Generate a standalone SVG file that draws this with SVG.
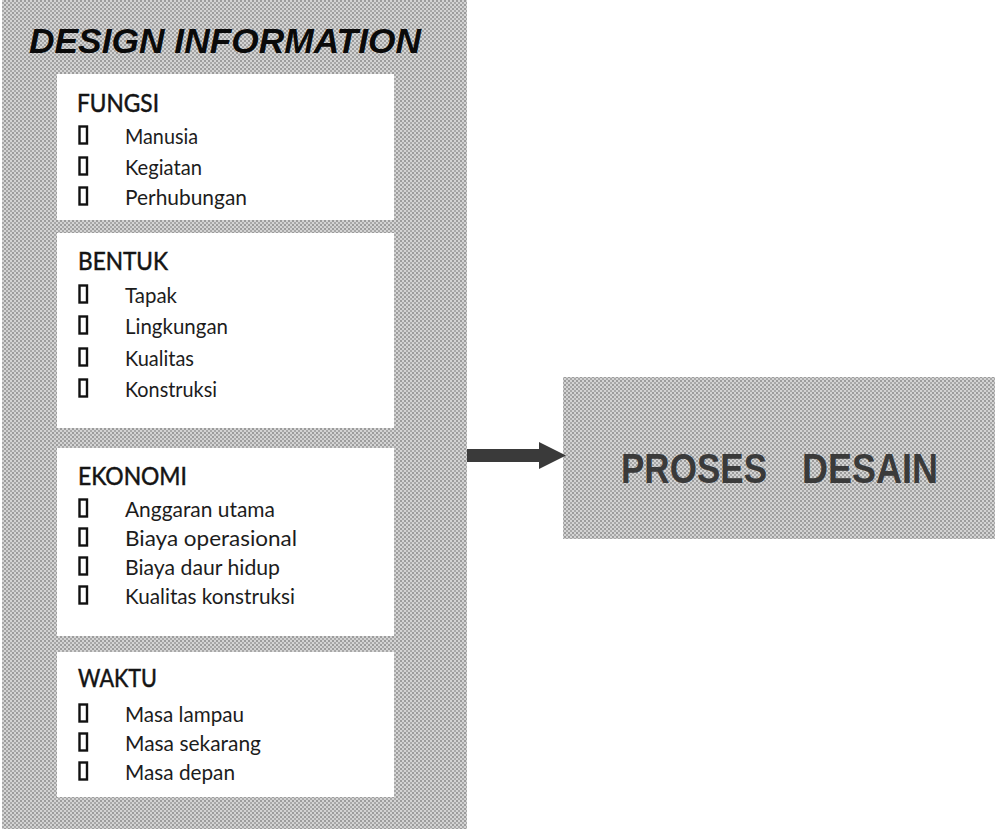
<svg xmlns="http://www.w3.org/2000/svg" width="995" height="829" viewBox="0 0 995 829">
  <style>
    .panel { fill: url(#halftone); }
    .card { fill: #ffffff; }
    .title { font-family: "Liberation Sans", Arial, sans-serif; font-weight: bold; font-style: italic; font-size: 35px; fill: #0a0a0a; }
    .head { font-family: Lato, "Open Sans", sans-serif; font-size: 25px; fill: #141414; stroke: #141414; stroke-width: 0.5; }
    .item { font-family: Lato, "Open Sans", sans-serif; font-size: 21px; fill: #1c1c1c; }
    .bullet { fill: none; stroke: #111; stroke-width: 2.4; }
    .big { font-family: "Liberation Sans", Arial, sans-serif; font-weight: bold; font-size: 43px; fill: #3a3a3a; }
    .arrow { fill: #3a3a3a; }
  </style>
  <defs>
    <!-- dithered grey screen used for the panels -->
    <pattern id="halftone" width="4" height="4" patternUnits="userSpaceOnUse">
      <rect width="4" height="4" fill="#d4d4d4"/>
      <rect x="0" y="0" width="2" height="2" fill="#9c9c9c"/>
      <rect x="2" y="2" width="2" height="2" fill="#a8a8a8"/>
    </pattern>
  </defs>

  <rect width="995" height="829" fill="#ffffff"/>

  <!-- outer container -->
  <g id="design-information">
    <rect class="panel" x="2" y="0" width="465" height="829"/>
    <text class="title" x="29" y="53" textLength="392" lengthAdjust="spacingAndGlyphs">DESIGN INFORMATION</text>
  </g>

  <g id="fungsi">
    <rect class="card" x="57" y="74" width="337" height="146"/>
    <text class="head" x="77" y="112" textLength="82" lengthAdjust="spacingAndGlyphs">FUNGSI</text>
    <rect class="bullet" x="79.5" y="126.5" width="7.5" height="17"/>
    <text class="item" x="125" y="144" textLength="73" lengthAdjust="spacingAndGlyphs">Manusia</text>
    <rect class="bullet" x="79.5" y="157.5" width="7.5" height="17"/>
    <text class="item" x="125" y="175" textLength="77" lengthAdjust="spacingAndGlyphs">Kegiatan</text>
    <rect class="bullet" x="79.5" y="187.5" width="7.5" height="17"/>
    <text class="item" x="125" y="205" textLength="122" lengthAdjust="spacingAndGlyphs">Perhubungan</text>
  </g>

  <g id="bentuk">
    <rect class="card" x="57" y="233" width="337" height="195"/>
    <text class="head" x="78" y="270" textLength="90" lengthAdjust="spacingAndGlyphs">BENTUK</text>
    <rect class="bullet" x="79.5" y="285.5" width="7.5" height="17"/>
    <text class="item" x="125" y="303" textLength="52" lengthAdjust="spacingAndGlyphs">Tapak</text>
    <rect class="bullet" x="79.5" y="316.5" width="7.5" height="17"/>
    <text class="item" x="125" y="334" textLength="103" lengthAdjust="spacingAndGlyphs">Lingkungan</text>
    <rect class="bullet" x="79.5" y="348.5" width="7.5" height="17"/>
    <text class="item" x="125" y="366" textLength="69" lengthAdjust="spacingAndGlyphs">Kualitas</text>
    <rect class="bullet" x="79.5" y="379.5" width="7.5" height="17"/>
    <text class="item" x="125" y="397" textLength="92" lengthAdjust="spacingAndGlyphs">Konstruksi</text>
  </g>

  <g id="ekonomi">
    <rect class="card" x="57" y="448" width="337" height="188"/>
    <text class="head" x="78" y="485" textLength="109" lengthAdjust="spacingAndGlyphs">EKONOMI</text>
    <rect class="bullet" x="79.5" y="499.5" width="7.5" height="17"/>
    <text class="item" x="125" y="517" textLength="150" lengthAdjust="spacingAndGlyphs">Anggaran utama</text>
    <rect class="bullet" x="79.5" y="528.5" width="7.5" height="17"/>
    <text class="item" x="125" y="546" textLength="172" lengthAdjust="spacingAndGlyphs">Biaya operasional</text>
    <rect class="bullet" x="79.5" y="557.5" width="7.5" height="17"/>
    <text class="item" x="125" y="575" textLength="155" lengthAdjust="spacingAndGlyphs">Biaya daur hidup</text>
    <rect class="bullet" x="79.5" y="586.5" width="7.5" height="17"/>
    <text class="item" x="125" y="604" textLength="170" lengthAdjust="spacingAndGlyphs">Kualitas konstruksi</text>
  </g>

  <g id="waktu">
    <rect class="card" x="57" y="652" width="337" height="145"/>
    <text class="head" x="78" y="687" textLength="79" lengthAdjust="spacingAndGlyphs">WAKTU</text>
    <rect class="bullet" x="79.5" y="704.5" width="7.5" height="17"/>
    <text class="item" x="125" y="722" textLength="119" lengthAdjust="spacingAndGlyphs">Masa lampau</text>
    <rect class="bullet" x="79.5" y="733.5" width="7.5" height="17"/>
    <text class="item" x="125" y="751" textLength="136" lengthAdjust="spacingAndGlyphs">Masa sekarang</text>
    <rect class="bullet" x="79.5" y="762.5" width="7.5" height="17"/>
    <text class="item" x="125" y="780" textLength="110" lengthAdjust="spacingAndGlyphs">Masa depan</text>
  </g>

  <g id="proses-desain">
    <rect class="panel" x="563" y="377" width="432" height="162"/>
    <text class="big" y="483"><tspan x="621" textLength="146" lengthAdjust="spacingAndGlyphs">PROSES</tspan><tspan x="802" textLength="136" lengthAdjust="spacingAndGlyphs">DESAIN</tspan></text>
  </g>

  <!-- connectors -->
  <g id="connectors">
    <path class="arrow" d="M467,449 H539 V442 L566,455.5 L539,469 V462 H467 Z"/>
  </g>
</svg>
